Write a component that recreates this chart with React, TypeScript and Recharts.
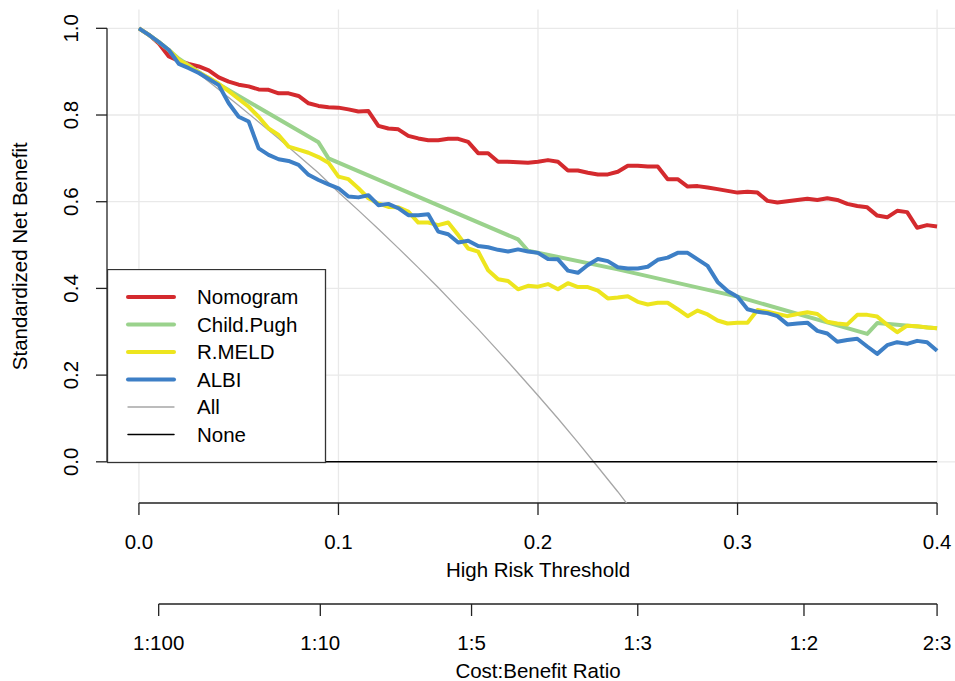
import React from "react";
import {
  LineChart,
  Line,
  XAxis,
  YAxis,
  CartesianGrid,
  ReferenceLine,
  Legend,
} from "recharts";

// ---------------- data ----------------
const thresholds = [
  0, 0.005, 0.01, 0.015, 0.02, 0.025, 0.03, 0.035, 0.04, 0.045,
  0.05, 0.055, 0.06, 0.065, 0.07, 0.075, 0.08, 0.085, 0.09, 0.095,
  0.1, 0.105, 0.11, 0.115, 0.12, 0.125, 0.13, 0.135, 0.14, 0.145,
  0.15, 0.155, 0.16, 0.165, 0.17, 0.175, 0.18, 0.185, 0.19, 0.195,
  0.2, 0.205, 0.21, 0.215, 0.22, 0.225, 0.23, 0.235, 0.24, 0.245,
  0.25, 0.255, 0.26, 0.265, 0.27, 0.275, 0.28, 0.285, 0.29, 0.295,
  0.3, 0.305, 0.31, 0.315, 0.32, 0.325, 0.33, 0.335, 0.34, 0.345,
  0.35, 0.355, 0.36, 0.365, 0.37, 0.375, 0.38, 0.385, 0.39, 0.395,
  0.4,
];

const nomogram = [
  1.0, 0.985, 0.965, 0.935, 0.925, 0.918, 0.912, 0.903, 0.887, 0.877,
  0.87, 0.866, 0.859, 0.858, 0.85, 0.85, 0.844, 0.827, 0.821, 0.818,
  0.817, 0.813, 0.808, 0.809, 0.775, 0.769, 0.767, 0.752, 0.746, 0.742,
  0.742, 0.745, 0.745, 0.738, 0.712, 0.712, 0.692, 0.692, 0.691, 0.69,
  0.692, 0.696, 0.692, 0.672, 0.672, 0.667, 0.663, 0.663, 0.669, 0.683,
  0.683, 0.681, 0.681, 0.652, 0.652, 0.635, 0.636, 0.633, 0.629, 0.625,
  0.621, 0.623, 0.621, 0.602, 0.598, 0.601, 0.604, 0.607, 0.604, 0.608,
  0.604, 0.595, 0.59, 0.587, 0.568, 0.564, 0.579, 0.576, 0.54, 0.546,
  0.543,
];

const rmeld = [
  1.0, 0.985, 0.968, 0.95, 0.927, 0.913, 0.898, 0.886, 0.872, 0.855,
  0.837, 0.819, 0.796, 0.769, 0.754, 0.727, 0.72, 0.713, 0.703, 0.69,
  0.658, 0.652, 0.631, 0.608, 0.596, 0.588, 0.587, 0.577, 0.552, 0.552,
  0.546, 0.552, 0.523, 0.492, 0.485, 0.442, 0.421, 0.417, 0.398, 0.406,
  0.404, 0.41, 0.398, 0.412, 0.403, 0.403, 0.395, 0.377, 0.379, 0.382,
  0.369, 0.363, 0.367, 0.367, 0.352, 0.336, 0.349, 0.34, 0.326, 0.319,
  0.321, 0.321, 0.35, 0.346, 0.341, 0.336, 0.341, 0.345, 0.341, 0.323,
  0.319, 0.317, 0.339, 0.339, 0.335, 0.316, 0.299, 0.314, 0.313, 0.31,
  0.308,
];

const albi = [
  1.0, 0.985, 0.968, 0.95, 0.918, 0.908, 0.897, 0.883, 0.869, 0.827,
  0.796, 0.785, 0.723, 0.708, 0.698, 0.694, 0.685, 0.662, 0.65, 0.64,
  0.631, 0.612, 0.61, 0.615, 0.592, 0.595, 0.585, 0.569, 0.569, 0.571,
  0.531, 0.525, 0.506, 0.51, 0.498, 0.495, 0.489, 0.485, 0.49, 0.485,
  0.482, 0.468, 0.467, 0.441, 0.436, 0.454, 0.468, 0.463, 0.449, 0.446,
  0.446, 0.45, 0.466, 0.471, 0.482, 0.482, 0.467, 0.452, 0.415, 0.394,
  0.381, 0.352, 0.346, 0.343, 0.336, 0.317, 0.319, 0.321, 0.302, 0.296,
  0.277, 0.281, 0.284, 0.266, 0.249, 0.269, 0.276, 0.272, 0.279, 0.276,
  0.256,
];

const childPughThresholds = [0, 0.005, 0.01, 0.015, 0.02, 0.035, 0.09, 0.095, 0.19, 0.195, 0.24, 0.3, 0.365, 0.37, 0.4];
const childPugh = [1.0, 0.985, 0.968, 0.95, 0.93, 0.884, 0.737, 0.7, 0.513, 0.487, 0.444, 0.381, 0.295, 0.32, 0.308];

const allThresholds = [
  0, 0.01, 0.02, 0.03, 0.04, 0.05, 0.06, 0.07, 0.08, 0.09, 0.1, 0.11, 0.12,
  0.13, 0.14, 0.15, 0.16, 0.17, 0.18, 0.19, 0.2, 0.21, 0.22, 0.23, 0.24, 0.25,
];
const allValues = [
  1.0, 0.966, 0.931, 0.895, 0.859, 0.822, 0.784, 0.746, 0.706, 0.666, 0.622,
  0.58, 0.537, 0.493, 0.448, 0.402, 0.354, 0.306, 0.256, 0.205, 0.153, 0.1,
  0.045, -0.012, -0.069, -0.129,
];

const noneThresholds = [0, 0.4];
const noneValues = [0, 0];

const xTicks = [0, 0.1, 0.2, 0.3, 0.4];
const xTickLabels = ["0.0", "0.1", "0.2", "0.3", "0.4"];
const yTicks = [0, 0.2, 0.4, 0.6, 0.8, 1.0];
const yTickLabels = ["0.0", "0.2", "0.4", "0.6", "0.8", "1.0"];
const costBenefitTicks = [0.0099, 0.0909, 0.1667, 0.25, 0.3333, 0.4];
const costBenefitLabels = ["1:100", "1:10", "1:5", "1:3", "1:2", "2:3"];

const legendNames = ["Nomogram", "Child.Pugh", "R.MELD", "ALBI", "All", "None"];

// ---------------- styling ----------------
const FONT = "'Liberation Sans', Arial, Helvetica, sans-serif";
const FS = 20.5;
const AXIS = "#222222";
const COLORS: Record<string, string> = {
  Nomogram: "#D42A2E",
  "Child.Pugh": "#9AD28C",
  "R.MELD": "#EDE51E",
  ALBI: "#3D7FC6",
  All: "#A6A6A6",
  None: "#000000",
};
const WIDTHS: Record<string, number> = {
  Nomogram: 4,
  "Child.Pugh": 4,
  "R.MELD": 4,
  ALBI: 4,
  All: 1.3,
  None: 1.5,
};

const X_MIN = -0.016;
const X_MAX = 0.416;
const Y_MIN = -0.095;
const Y_MAX = 1.0434;
const CB_LINE_Y = -0.328;

const XT = "x1";
const XCB = "x2";

const mainRows = thresholds.map((t, i) => ({
  t,
  Nomogram: nomogram[i],
  "R.MELD": rmeld[i],
  ALBI: albi[i],
}));
const cpRows = childPughThresholds.map((t, i) => ({ t, v: childPugh[i] }));
const allRows = allThresholds.map((t, i) => ({ t, v: allValues[i] }));
const noneRows = noneThresholds.map((t, i) => ({ t, v: noneValues[i] }));

const XTick = (labels: string[], ticks: number[]) => (props: any) => {
  const { x, y, payload } = props;
  const idx = ticks.findIndex((v) => Math.abs(v - payload.value) < 1e-6);
  return (
    <text x={x} y={y + 33.5} textAnchor="middle" fontSize={FS} fontFamily={FONT} fill="#000">
      {idx >= 0 ? labels[idx] : ""}
    </text>
  );
};

const YTick = (props: any) => {
  const { x, y, payload } = props;
  const idx = yTicks.findIndex((v) => Math.abs(v - payload.value) < 1e-6);
  const bx = x - 18;
  return (
    <text
      x={bx}
      y={y}
      transform={`rotate(-90 ${bx} ${y})`}
      textAnchor="middle"
      fontSize={FS}
      fontFamily={FONT}
      fill="#000"
    >
      {idx >= 0 ? yTickLabels[idx] : ""}
    </text>
  );
};

const xTitle = (text: string) => (props: any) => {
  const vb = props.viewBox || {};
  const cx = (vb.x ?? 107) + (vb.width ?? 862) / 2;
  const by = (vb.y ?? 503) + 74;
  return (
    <text x={cx} y={by} textAnchor="middle" fontSize={FS} fontFamily={FONT} fill="#000">
      {text}
    </text>
  );
};

const yTitle = (props: any) => {
  const vb = props.viewBox || {};
  const cy = (vb.y ?? 9.5) + (vb.height ?? 493.5) / 2;
  const bx = 27;
  return (
    <text
      x={bx}
      y={cy}
      transform={`rotate(-90 ${bx} ${cy})`}
      textAnchor="middle"
      fontSize={FS}
      fontFamily={FONT}
      fill="#000"
    >
      Standardized Net Benefit
    </text>
  );
};

const LegendBox = () => (
  <svg width={220} height={195} style={{ display: "block" }}>
    <rect x={0.5} y={0.5} width={218} height={193} fill="#fff" stroke="#333" strokeWidth={1.3} />
    {legendNames.map((name, i) => {
      const cy = 28 + i * 27.5;
      return (
        <g key={name}>
          <line
            x1={21}
            x2={67}
            y1={cy}
            y2={cy}
            stroke={COLORS[name]}
            strokeWidth={WIDTHS[name]}
            strokeLinecap="round"
          />
          <text x={90} y={cy + 7} fontSize={FS} fontFamily={FONT} fill="#000">
            {name}
          </text>
        </g>
      );
    })}
  </svg>
);

export default function App() {
  return (
    <div
      style={{
        position: "absolute",
        left: 0,
        top: 0,
        width: 955,
        height: 681,
        overflow: "hidden",
        background: "#fff",
      }}
    >
      <LineChart
        width={975}
        height={681}
        margin={{ top: 9.5, right: 6, bottom: 0, left: 0 }}
      >
        <CartesianGrid
          xAxisId={XT}
          yAxisId="v"
          stroke="#E9E9E9"
          strokeWidth={1.3}
          horizontalValues={yTicks}
          verticalValues={xTicks}
        />
        <XAxis
          xAxisId={XT}
          dataKey="t"
          type="number"
          domain={[X_MIN, X_MAX]}
          allowDataOverflow
          ticks={xTicks}
          interval={0}
          height={101}
          tickSize={12}
          tickMargin={0}
          axisLine={false}
          tickLine={{ stroke: AXIS, strokeWidth: 1.3 }}
          tick={XTick(xTickLabels, xTicks)}
          label={{ content: xTitle("High Risk Threshold") }}
        />
        <XAxis
          xAxisId={XCB}
          dataKey="t"
          type="number"
          domain={[X_MIN, X_MAX]}
          allowDataOverflow
          ticks={costBenefitTicks}
          interval={0}
          height={77}
          tickSize={12}
          tickMargin={0}
          axisLine={false}
          tickLine={{ stroke: AXIS, strokeWidth: 1.3 }}
          tick={XTick(costBenefitLabels, costBenefitTicks)}
          label={{ content: xTitle("Cost:Benefit Ratio") }}
        />
        <YAxis
          yAxisId="v"
          type="number"
          domain={[Y_MIN, Y_MAX]}
          allowDataOverflow
          ticks={yTicks}
          interval={0}
          width={107}
          tickSize={11}
          tickMargin={0}
          axisLine={false}
          tickLine={{ stroke: AXIS, strokeWidth: 1.3 }}
          tick={YTick}
          label={{ content: yTitle }}
        />

        {/* R-style axis lines spanning first to last tick */}
        <ReferenceLine
          xAxisId={XT}
          yAxisId="v"
          segment={[{ x: 0, y: Y_MIN }, { x: 0.4, y: Y_MIN }]}
          stroke={AXIS}
          strokeWidth={1.3}
          ifOverflow="visible"
        />
        <ReferenceLine
          xAxisId={XT}
          yAxisId="v"
          segment={[{ x: costBenefitTicks[0], y: CB_LINE_Y }, { x: 0.4, y: CB_LINE_Y }]}
          stroke={AXIS}
          strokeWidth={1.3}
          ifOverflow="visible"
        />
        <ReferenceLine
          xAxisId={XT}
          yAxisId="v"
          segment={[{ x: X_MIN, y: 0 }, { x: X_MIN, y: 1 }]}
          stroke={AXIS}
          strokeWidth={1.3}
          ifOverflow="visible"
        />

        <Line
          xAxisId={XT}
          yAxisId="v"
          data={allRows}
          dataKey="v"
          name="All"
          stroke={COLORS.All}
          strokeWidth={WIDTHS.All}
          dot={false}
          activeDot={false}
          isAnimationActive={false}
        />
        <Line
          xAxisId={XT}
          yAxisId="v"
          data={noneRows}
          dataKey="v"
          name="None"
          stroke={COLORS.None}
          strokeWidth={WIDTHS.None}
          dot={false}
          activeDot={false}
          isAnimationActive={false}
        />
        <Line
          xAxisId={XT}
          yAxisId="v"
          data={mainRows}
          dataKey="Nomogram"
          name="Nomogram"
          stroke={COLORS.Nomogram}
          strokeWidth={WIDTHS.Nomogram}
          strokeLinejoin="round"
          dot={false}
          activeDot={false}
          isAnimationActive={false}
        />
        <Line
          xAxisId={XT}
          yAxisId="v"
          data={cpRows}
          dataKey="v"
          name="Child.Pugh"
          stroke={COLORS["Child.Pugh"]}
          strokeWidth={WIDTHS["Child.Pugh"]}
          strokeLinejoin="round"
          dot={false}
          activeDot={false}
          isAnimationActive={false}
        />
        <Line
          xAxisId={XT}
          yAxisId="v"
          data={mainRows}
          dataKey="R.MELD"
          name="R.MELD"
          stroke={COLORS["R.MELD"]}
          strokeWidth={WIDTHS["R.MELD"]}
          strokeLinejoin="round"
          dot={false}
          activeDot={false}
          isAnimationActive={false}
        />
        <Line
          xAxisId={XT}
          yAxisId="v"
          data={mainRows}
          dataKey="ALBI"
          name="ALBI"
          stroke={COLORS.ALBI}
          strokeWidth={WIDTHS.ALBI}
          strokeLinejoin="round"
          dot={false}
          activeDot={false}
          isAnimationActive={false}
        />

        <Legend
          layout="vertical"
          align="center"
          verticalAlign="middle"
          content={() => <LegendBox />}
          wrapperStyle={{
            position: "absolute",
            left: 107,
            top: 268.5,
            bottom: "auto",
            width: 220,
            height: 195,
            margin: 0,
            padding: 0,
          }}
        />
      </LineChart>
    </div>
  );
}
